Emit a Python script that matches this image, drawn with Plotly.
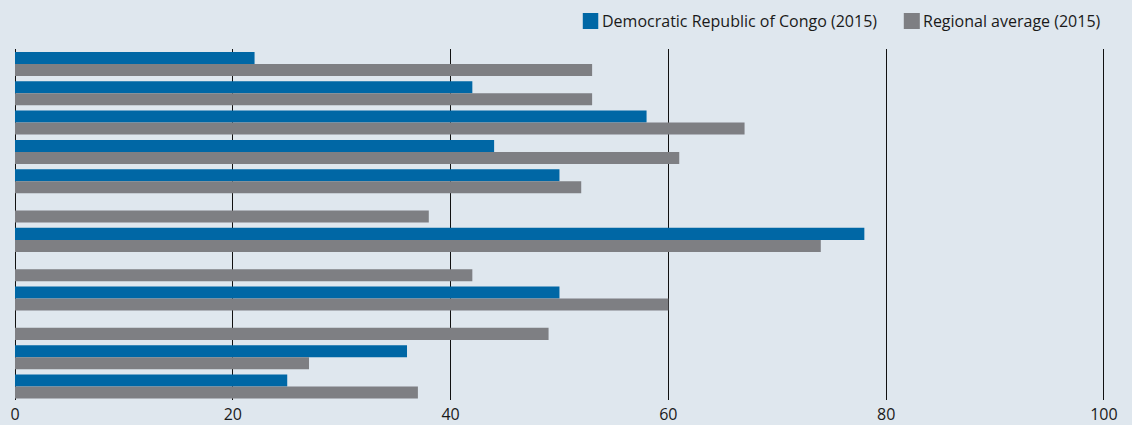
import plotly.graph_objects as go

groups = list(range(12))
drc_2015 = [22, 42, 58, 44, 50, None, 78, None, 50, None, 36, 25]
regional_2015 = [53, 53, 67, 61, 52, 38, 74, 42, 60, 49, 27, 37]
x_ticks = [0, 20, 40, 60, 80, 100]
series_names = ["Democratic Republic of Congo (2015)", "Regional average (2015)"]

BG = "#dfe7ee"
BLUE = "#0067a5"
GRAY = "#7e7f83"
FONT = "Open Sans"

fig = go.Figure()
fig.add_trace(go.Bar(y=groups, x=drc_2015, orientation="h", name=series_names[0],
                     marker=dict(color=BLUE, line=dict(width=0)), showlegend=False))
fig.add_trace(go.Bar(y=groups, x=regional_2015, orientation="h", name=series_names[1],
                     marker=dict(color=GRAY, line=dict(width=0)), showlegend=False))

# manual legend (positions in paper coords of the plot area)
legend_items = [
    (0.5209, 0.5351, 0.5363, BLUE, series_names[0]),
    (0.8154, 0.8301, 0.8311, GRAY, series_names[1]),
]
for x0, x1, xt, col, label in legend_items:
    fig.add_shape(type="rect", xref="paper", yref="paper", x0=x0, x1=x1, y0=1.0570, y1=1.1026,
                  fillcolor=col, line=dict(width=0), layer="above")
    fig.add_annotation(xref="paper", yref="paper", x=xt, y=1.0798, xanchor="left", yanchor="middle",
                       text=label, showarrow=False, font=dict(family=FONT, size=16, color="#1a1a1a"))

fig.update_layout(
    width=1132, height=425,
    paper_bgcolor=BG, plot_bgcolor=BG,
    margin=dict(l=15, r=27, t=49, b=25, autoexpand=False),
    barmode="group", bargap=0.18, bargroupgap=0,
    font=dict(family=FONT, size=16, color="#1a1a1a"),
    showlegend=False,
    xaxis=dict(range=[0, 100.1], tickvals=x_ticks, ticktext=[str(v) for v in x_ticks],
               showgrid=True, gridcolor="#111111", gridwidth=1,
               zeroline=True, zerolinecolor="#111111", zerolinewidth=1,
               showline=False, ticks="", tickfont=dict(size=16), ticklabelstandoff=3,
               fixedrange=True),
    yaxis=dict(range=[11.46, -0.51], showticklabels=False, showgrid=False,
               zeroline=False, showline=False, ticks="", fixedrange=True),
)

fig.write_html("out.html", config={"displayModeBar": False, "staticPlot": True},
               post_script="document.body.style.margin='0px';document.body.style.overflow='hidden';")
